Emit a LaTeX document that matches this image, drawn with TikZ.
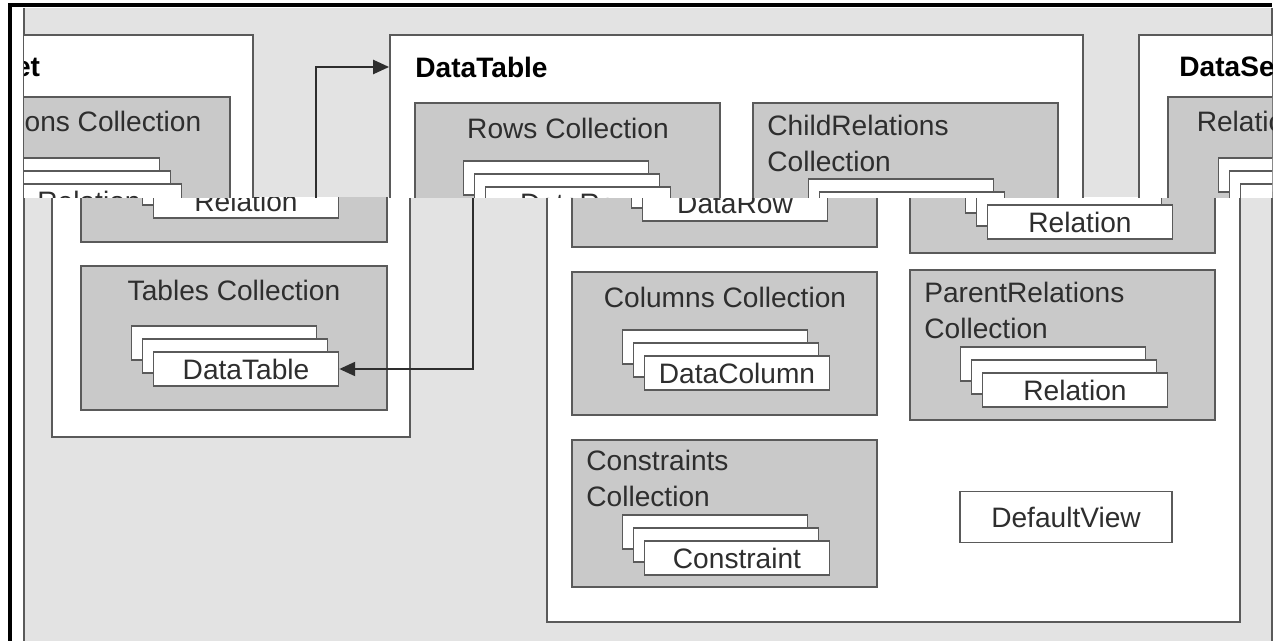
\documentclass[tikz,border=0pt]{standalone}
\usepackage{fontspec}
\setmainfont{Liberation Sans}
\usetikzlibrary{arrows.meta,fit}

\definecolor{bggray}{HTML}{E3E3E3}
\definecolor{collgray}{HTML}{C9C9C9}
\definecolor{edge}{HTML}{5A5A5A}
\definecolor{ink}{HTML}{2E2E2E}

\tikzset{
  frame/.style={draw=edge, fill=white, line width=1.1pt, inner sep=0pt},
  coll/.style={draw=edge, fill=collgray, line width=1.1pt, inner sep=0pt},
  item/.style={draw=edge, fill=white, line width=1pt, minimum width=3.7cm,
               minimum height=0.68cm, inner sep=0pt,
               font=\fontsize{16}{19}\selectfont, text=ink},
  ttl/.style={font=\fontsize{16}{20.5}\selectfont, text=ink, inner sep=0pt, align=left},
  head/.style={font=\fontsize{16}{19}\selectfont\bfseries, text=black, inner sep=0pt, anchor=west},
  link/.style={{Triangle[length=9pt,width=8pt]}-{Triangle[length=9pt,width=8pt]},
               line width=1.1pt, draw=ink},
}

% three stacked items, front one named #1
\newcommand{\stackat}[4]{%
  \node[item] (#1c) at (#2-22,#3-26) {};
  \node[item] (#1b) at (#2-11,#3-13) {};
  \node[item] (#1) at (#2,#3) {#4};
}

\newcommand{\dsdiagram}{%
  % DataSet
  \node[frame, fit={(52,35) (410,437)}] (dataset) {};
  \node[head] (dstitle) at (92,67) {DataSet};
  \node[coll, fit={(81,97) (387,242)}] (relcoll) {};
  \node[ttl] (reltitle) at (234,121) {Relations Collection};
  \stackat{rel}{246}{201}{Relation}
  \node[coll, fit={(81,266) (387,410)}] (tblcoll) {};
  \node[ttl] (tbltitle) at (234,290) {Tables Collection};
  \stackat{dtitem}{246}{369}{DataTable}
  % DataTable
  \node[frame, fit={(547,35) (1240,622)}] (datatable) {};
  \node[head] (dttitle) at (572,67) {DataTable};
  \node[coll, fit={(572,103) (877,247)}] (rowcoll) {};
  \node[ttl] (rowtitle) at (725,128) {Rows Collection};
  \stackat{row}{735}{204}{DataRow}
  \node[coll, fit={(910,103) (1215,253)}] (childcoll) {};
  \node[ttl, anchor=north west] (childtitle) at (924,115) {ChildRelations\\Collection};
  \stackat{child}{1080}{222}{Relation}
  \node[coll, fit={(572,272) (877,415)}] (colcoll) {};
  \node[ttl] (coltitle) at (725,297) {Columns Collection};
  \stackat{col}{737}{373}{DataColumn}
  \node[coll, fit={(910,270) (1215,420)}] (parentcoll) {};
  \node[ttl, anchor=north west] (parenttitle) at (924,282) {ParentRelations\\Collection};
  \stackat{parent}{1075}{390}{Relation}
  \node[coll, fit={(572,440) (877,587)}] (concoll) {};
  \node[ttl, anchor=north west] (contitle) at (586,450) {Constraints\\Collection};
  \stackat{con}{737}{558}{Constraint}
  \node[item, minimum width=4.24cm, minimum height=1.02cm] (defview) at (1066,517) {DefaultView};
  % table item to its DataTable
  \draw[link] (dtitem.east) -- ++(134,0) |- (datatable.west |- dttitle.center);
}

\begin{document}
\begin{tikzpicture}[x=0.02cm, y=-0.02cm]
  \useasboundingbox[fill=white] (0,0) rectangle (1283,641);
  \fill[bggray] (24,8) rectangle (1272,641);
  \draw[edge, line width=1.1pt] (24,8) -- (24,641);
  \draw[edge, line width=1.1pt] (1272,8) -- (1272,641);

  % lower part
  \begin{scope}
    \clip (24,198) rectangle (1272,641);
    \dsdiagram
  \end{scope}
  % top strip, shifted
  \begin{scope}[shift={(-157,0)}]
    \clip (181,8) rectangle (1257,198);
    \dsdiagram
  \end{scope}
  \begin{scope}[shift={(1087,0)}]
    \clip (13,8) rectangle (185,198);
    \dsdiagram
  \end{scope}

  \draw[line width=1.8pt] (10,641) -- (10,5) -- (1272,5);
\end{tikzpicture}
\end{document}
